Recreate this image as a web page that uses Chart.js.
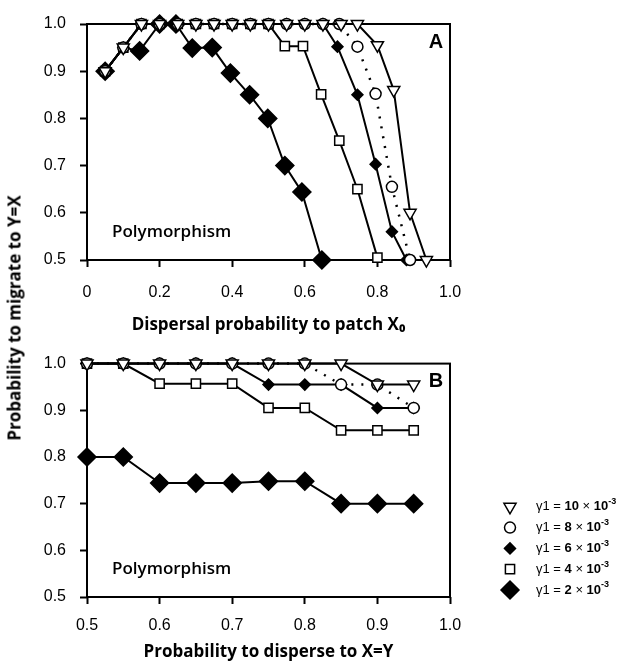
<!DOCTYPE html>
<html>
<head>
<meta charset="utf-8">
<title>Probability to migrate to Y=X</title>
<script src="https://cdn.jsdelivr.net/npm/chart.js@4.4.0/dist/chart.umd.min.js"></script>
<style>
  html, body { margin: 0; padding: 0; background: #fff; }
  #page { position: relative; width: 628px; height: 665px; overflow: hidden; }
  canvas { position: absolute; left: 0; }
  #chartA { top: 0; }
  #chartB { top: 340px; }
  #yTitle {
    position: absolute; left: 14px; top: 318px;
    transform: translate(-50%, -50%) rotate(-90deg);
    white-space: nowrap;
    font: bold 17px "Open Sans", sans-serif;
    color: #000;
  }
</style>
</head>
<body>
<div id="page">
  <canvas id="chartA" width="628" height="340"></canvas>
  <canvas id="chartB" width="628" height="325"></canvas>
  <div id="yTitle">Probability to migrate to Y=X</div>
</div>
<script>
// values, one pair of arrays per curve
// order of curves: gamma1 = 10, 8, 6, 4, 2 (x 10^-3)
const gammaValues = ['10', '8', '6', '4', '2'];

const xTickLabelsA = ['0', '0.2', '0.4', '0.6', '0.8', '1.0'];
const xTickLabelsB = ['0.5', '0.6', '0.7', '0.8', '0.9', '1.0'];
const yTickLabels = ['0.5', '0.6', '0.7', '0.8', '0.9', '1.0'];

// panel A - dispersal probability to patch X0
const triXA = [0.05, 0.10, 0.15, 0.20, 0.25, 0.30, 0.35, 0.40, 0.45, 0.50, 0.55, 0.60, 0.65, 0.70, 0.745, 0.80, 0.845, 0.89, 0.935];
const triYA = [0.90, 0.95, 1.00, 1.00, 1.00, 1.00, 1.00, 1.00, 1.00, 1.00, 1.00, 1.00, 1.00, 1.00, 1.00, 0.955, 0.86, 0.60, 0.50];

const cirXA = [0.05, 0.10, 0.15, 0.20, 0.25, 0.30, 0.35, 0.40, 0.45, 0.50, 0.55, 0.60, 0.65, 0.695, 0.745, 0.795, 0.84, 0.89];
const cirYA = [0.90, 0.95, 1.00, 1.00, 1.00, 1.00, 1.00, 1.00, 1.00, 1.00, 1.00, 1.00, 1.00, 1.00, 0.952, 0.852, 0.655, 0.50];

const smdXA = [0.05, 0.10, 0.15, 0.20, 0.25, 0.30, 0.35, 0.40, 0.45, 0.50, 0.55, 0.60, 0.65, 0.69, 0.745, 0.795, 0.84, 0.88];
const smdYA = [0.90, 0.95, 1.00, 1.00, 1.00, 1.00, 1.00, 1.00, 1.00, 1.00, 1.00, 1.00, 1.00, 0.952, 0.85, 0.703, 0.56, 0.50];

const sqXA = [0.05, 0.10, 0.15, 0.20, 0.25, 0.30, 0.35, 0.40, 0.45, 0.50, 0.545, 0.595, 0.645, 0.695, 0.745, 0.80];
const sqYA = [0.90, 0.95, 1.00, 1.00, 1.00, 1.00, 1.00, 1.00, 1.00, 1.00, 0.953, 0.953, 0.851, 0.753, 0.65, 0.505];

const bigXA = [0.05, 0.10, 0.145, 0.20, 0.245, 0.29, 0.345, 0.395, 0.448, 0.498, 0.545, 0.592, 0.647];
const bigYA = [0.90, 0.95, 0.943, 1.00, 1.00, 0.949, 0.95, 0.896, 0.85, 0.80, 0.70, 0.644, 0.50];

// panel B - probability to disperse to X=Y
const xB = [0.50, 0.55, 0.60, 0.65, 0.70, 0.75, 0.80, 0.85, 0.90, 0.95];
const triYB = [1.00, 1.00, 1.00, 1.00, 1.00, 1.00, 1.00, 1.00, 0.955, 0.955];
const cirYB = [1.00, 1.00, 1.00, 1.00, 1.00, 1.00, 1.00, 0.955, 0.955, 0.905];
const smdYB = [1.00, 1.00, 1.00, 1.00, 1.00, 0.955, 0.955, 0.955, 0.905, 0.905];
const sqYB = [1.00, 1.00, 0.957, 0.957, 0.957, 0.905, 0.905, 0.857, 0.857, 0.857];
const bigYB = [0.80, 0.80, 0.744, 0.744, 0.744, 0.748, 0.748, 0.70, 0.70, 0.70];

// marker look for each curve (same order as gammaValues)
const seriesStyles = [
  { pointStyle: 'triangle', rotation: 180, radius: 7, fill: '#fff', dash: [], width: 2 },
  { pointStyle: 'circle', rotation: 0, radius: 5.5, fill: '#fff', dash: [2, 8], width: 2.5 },
  { pointStyle: 'rectRot', rotation: 0, radius: 5.5, fill: '#000', dash: [], width: 2 },
  { pointStyle: 'rect', rotation: 0, radius: 6.5, fill: '#fff', dash: [], width: 2 },
  { pointStyle: 'rectRot', rotation: 0, radius: 9, fill: '#000', dash: [], width: 2 }
];

Chart.defaults.font.family = '"Liberation Sans", sans-serif';
Chart.defaults.color = '#000';

function buildDatasets(series) {
  return series.map((s, i) => {
    const st = seriesStyles[i];
    return {
      label: 'γ1 = ' + gammaValues[i] + ' × 10⁻³',
      data: s.x.map((x, j) => ({ x: x, y: s.y[j] })),
      borderColor: '#000',
      borderWidth: st.width,
      borderDash: st.dash,
      pointStyle: st.pointStyle,
      pointRotation: st.rotation,
      pointRadius: st.radius,
      pointHoverRadius: st.radius,
      pointBackgroundColor: st.fill,
      pointBorderColor: '#000',
      pointBorderWidth: 1.5,
      tension: 0,
      clip: false
    };
  });
}

const tickFont = { family: '"Liberation Sans", sans-serif', size: 16 };
const titleFont = { family: '"Open Sans", sans-serif', size: 17, weight: 'bold' };

function buildScales(xMin, xMax, xStep, xLabels, xTitle, axisHeight, labelPad, titlePad) {
  return {
    x: {
      type: 'linear',
      min: xMin,
      max: xMax,
      ticks: { stepSize: xStep, padding: labelPad, font: tickFont, color: '#000', maxRotation: 0, callback: (v, i) => xLabels[i] },
      grid: { drawOnChartArea: false, tickLength: 7, tickWidth: 2, tickColor: '#000' },
      border: { display: false },
      title: { display: true, text: xTitle, font: titleFont, color: '#000', padding: { top: 0, bottom: titlePad } },
      afterFit: (scale) => { scale.height = axisHeight; }
    },
    y: {
      type: 'linear',
      min: 0.5,
      max: 1.0,
      ticks: { stepSize: 0.1, padding: 14, font: tickFont, color: '#000', callback: (v, i) => yTickLabels[i] },
      grid: { drawOnChartArea: false, tickLength: 7, tickWidth: 2, tickColor: '#000' },
      border: { display: false },
      afterFit: (scale) => { scale.width = 87; }
    }
  };
}

// box around the plot, the panel letter and the "Polymorphism" note
const panelDecor = {
  id: 'panelDecor',
  beforeDatasetsDraw(chart, args, opts) {
    const { ctx, chartArea: a } = chart;
    ctx.save();
    ctx.strokeStyle = '#000';
    ctx.lineWidth = 2;
    ctx.strokeRect(a.left, a.top, a.right - a.left, a.bottom - a.top);
    ctx.fillStyle = '#000';
    ctx.font = '600 17px "Open Sans", sans-serif';
    ctx.textAlign = 'left';
    ctx.textBaseline = 'alphabetic';
    ctx.fillText(opts.note, a.left + 25, a.bottom - 23);
    ctx.font = 'bold 20px "Liberation Sans", sans-serif';
    ctx.textAlign = 'center';
    ctx.textBaseline = 'middle';
    ctx.fillText(opts.letter, a.right - 14, a.top + 18);
    ctx.restore();
  }
};

// legend to the right of panel B, markers drawn with the chart's own point helper
const sideLegend = {
  id: 'sideLegend',
  afterDraw(chart, args, opts) {
    if (!opts.display) return;
    const { ctx, chartArea: a } = chart;
    const sets = chart.data.datasets;
    const normal = '13px "Liberation Sans", sans-serif';
    const bold = 'bold 13px "Liberation Sans", sans-serif';
    ctx.save();
    sets.forEach((ds, i) => {
      const st = seriesStyles[i];
      const y = a.bottom - 7 - (sets.length - 1 - i) * 20.8;
      ctx.fillStyle = st.fill;
      ctx.strokeStyle = '#000';
      ctx.lineWidth = 1.5;
      Chart.helpers.drawPoint(ctx, { pointStyle: st.pointStyle, rotation: st.rotation, radius: st.radius, borderWidth: 1.5 }, a.right + 60, y);

      ctx.fillStyle = '#000';
      ctx.textAlign = 'left';
      ctx.textBaseline = 'middle';
      const parts = [
        { t: 'γ1 = ', f: normal, dy: 0 },
        { t: gammaValues[i], f: bold, dy: 0 },
        { t: ' × ', f: normal, dy: 0 },
        { t: '10', f: bold, dy: 0 },
        { t: '-3', f: 'bold 9px "Liberation Sans", sans-serif', dy: -5 }
      ];
      let x = a.right + 86;
      parts.forEach(p => {
        ctx.font = p.f;
        ctx.fillText(p.t, x, y + p.dy);
        x += ctx.measureText(p.t).width;
      });
    });
    ctx.restore();
  }
};

const datasetsA = buildDatasets([
  { x: triXA, y: triYA },
  { x: cirXA, y: cirYA },
  { x: smdXA, y: smdYA },
  { x: sqXA, y: sqYA },
  { x: bigXA, y: bigYA }
]);
// the large diamond at x=0.1 sits under the other markers and does not show
datasetsA[4].pointRadius = (c) => (c.dataIndex === 1 ? 0 : seriesStyles[4].radius);

const datasetsB = buildDatasets([
  { x: xB, y: triYB },
  { x: xB, y: cirYB },
  { x: xB, y: smdYB },
  { x: xB, y: sqYB },
  { x: xB, y: bigYB }
]);

new Chart(document.getElementById('chartA'), {
  type: 'line',
  data: { datasets: datasetsA },
  options: {
    responsive: false,
    animation: false,
    devicePixelRatio: 1,
    events: [],
    layout: { padding: { top: 24, right: 178, left: 0, bottom: 0 } },
    scales: buildScales(0, 1, 0.2, xTickLabelsA, 'Dispersal probability to patch X₀', 80, 16, 5),
    plugins: {
      legend: { display: false },
      tooltip: { enabled: false },
      panelDecor: { letter: 'A', note: 'Polymorphism' },
      sideLegend: { display: false }
    }
  },
  plugins: [panelDecor, sideLegend]
});

new Chart(document.getElementById('chartB'), {
  type: 'line',
  data: { datasets: datasetsB },
  options: {
    responsive: false,
    animation: false,
    devicePixelRatio: 1,
    events: [],
    layout: { padding: { top: 22, right: 178, left: 0, bottom: 0 } },
    scales: buildScales(0.5, 1.0, 0.1, xTickLabelsB, 'Probability to disperse to X=Y', 68, 12, 3),
    plugins: {
      legend: { display: false },
      tooltip: { enabled: false },
      panelDecor: { letter: 'B', note: 'Polymorphism' },
      sideLegend: { display: true }
    }
  },
  plugins: [panelDecor, sideLegend]
});
</script>
</body>
</html>
